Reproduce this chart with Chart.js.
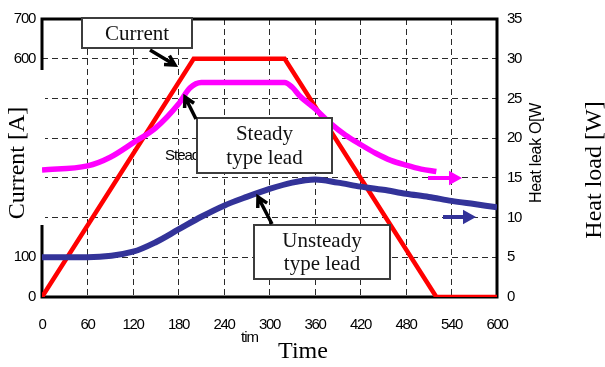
<!DOCTYPE html>
<html>
<head>
<meta charset="utf-8">
<script src="https://cdn.jsdelivr.net/npm/chart.js@4.4.1/dist/chart.umd.min.js"></script>
<style>
  html, body { margin: 0; padding: 0; background: #fff; }
</style>
</head>
<body>
<canvas id="chart" width="605" height="367"></canvas>
<script>
// current ramp [A]
const currentTime = [0, 200, 320, 520, 600];
const currentAmp = [0, 600, 600, 0, 0];

// steady type lead, heat leak [W]
const steadyTime = [0, 60, 90, 120, 150, 180, 195, 210, 320, 330, 340, 360, 380, 400, 420, 440, 460, 480, 500, 520];
const steadyHeat = [16.0, 16.5, 17.6, 19.4, 21.3, 24.3, 26.3, 27.0, 27.0, 26.4, 25.3, 23.7, 21.9, 20.4, 19.2, 18.1, 17.2, 16.6, 16.1, 15.8];

// unsteady type lead, heat leak [W]
const unsteadyTime = [0, 60, 120, 150, 180, 210, 240, 270, 300, 330, 360, 390, 420, 450, 480, 510, 540, 570, 600];
const unsteadyHeat = [5.0, 5.0, 5.7, 6.9, 8.5, 10.1, 11.5, 12.6, 13.6, 14.4, 14.8, 14.4, 13.9, 13.5, 13.0, 12.6, 12.1, 11.7, 11.3];

// left axis labels hidden behind the axis title
const hiddenCurrentTicks = [200, 300, 400, 500];

const tickFont = { family: "'Liberation Sans Narrow', 'Arial Narrow', 'Liberation Sans', sans-serif", size: 15 };
const serif = '"Liberation Serif", "Times New Roman", serif';
const gridColor = '#2a2a2a';

function pts(xs, ys) {
  return xs.map((x, i) => ({ x: x, y: ys[i] }));
}

/*
  @desc: tight tick lettering, like the squeezed labels of the original
*/
const tightTextPlugin = {
  id: 'tightText',
  beforeDraw(chart) {
    chart.ctx.letterSpacing = '-1.3px';
  }
};

/*
  @desc: frame of the plot, drawn under the lines
*/
const framePlugin = {
  id: 'frame',
  beforeDatasetsDraw(chart) {
    const { ctx, chartArea: a } = chart;
    ctx.save();
    // white patch over the left axis where the title sits
    ctx.fillStyle = '#fff';
    ctx.fillRect(0, 70, a.left + 3, 155);
    ctx.strokeStyle = '#000';
    ctx.lineWidth = 3;
    ctx.beginPath();
    ctx.moveTo(a.left, 70);
    ctx.lineTo(a.left, a.top);
    ctx.lineTo(a.right, a.top);
    ctx.lineTo(a.right, a.bottom);
    ctx.lineTo(a.left, a.bottom);
    ctx.lineTo(a.left, 225);
    ctx.stroke();
    ctx.restore();
  }
};

function arrow(ctx, x1, y1, x2, y2, color, width, head, filled) {
  const ang = Math.atan2(y2 - y1, x2 - x1);
  ctx.strokeStyle = color;
  ctx.fillStyle = color;
  ctx.lineWidth = width;
  ctx.lineCap = 'butt';
  ctx.beginPath();
  if (filled) {
    const bx = x2 - head * Math.cos(ang), by = y2 - head * Math.sin(ang);
    ctx.moveTo(x1, y1);
    ctx.lineTo(bx, by);
    ctx.stroke();
    ctx.beginPath();
    ctx.moveTo(x2, y2);
    ctx.lineTo(bx + head * 0.55 * Math.sin(ang), by - head * 0.55 * Math.cos(ang));
    ctx.lineTo(bx - head * 0.55 * Math.sin(ang), by + head * 0.55 * Math.cos(ang));
    ctx.closePath();
    ctx.fill();
  } else {
    ctx.moveTo(x1, y1);
    ctx.lineTo(x2, y2);
    ctx.moveTo(x2 - head * Math.cos(ang - 0.5), y2 - head * Math.sin(ang - 0.5));
    ctx.lineTo(x2, y2);
    ctx.lineTo(x2 - head * Math.cos(ang + 0.5), y2 - head * Math.sin(ang + 0.5));
    ctx.stroke();
  }
}

function labelBox(ctx, x, y, w, h, lines, gap) {
  ctx.fillStyle = '#fff';
  ctx.fillRect(x, y, w, h);
  ctx.strokeStyle = '#3c3c3c';
  ctx.lineWidth = 2;
  ctx.strokeRect(x, y, w, h);
  ctx.fillStyle = '#111';
  ctx.font = '21px ' + serif;
  ctx.textAlign = 'center';
  ctx.textBaseline = 'middle';
  lines.forEach((t, i) => {
    ctx.fillText(t, x + w / 2, y + h / 2 + 1 + (i - (lines.length - 1) / 2) * gap);
  });
}

/*
  @desc: axis titles, callouts and arrows
*/
const notesPlugin = {
  id: 'notes',
  afterDraw(chart) {
    const ctx = chart.ctx;
    ctx.save();
    ctx.letterSpacing = '-1px';

    // leftover small labels
    ctx.fillStyle = '#000';
    ctx.font = "15px 'Liberation Sans', sans-serif";
    ctx.textAlign = 'left';
    ctx.textBaseline = 'middle';
    ctx.fillText('Steady', 165, 156);
    ctx.fillText('tim', 241, 338);

    ctx.save();
    ctx.letterSpacing = '-0.3px';
    ctx.translate(537, 153);
    ctx.rotate(-Math.PI / 2);
    ctx.textAlign = 'center';
    ctx.font = "16px 'Liberation Sans', sans-serif";
    ctx.fillText('Heat leak O[W', 0, 0);
    ctx.restore();

    // axis titles
    ctx.letterSpacing = '0px';
    ctx.font = '24px ' + serif;
    ctx.textAlign = 'center';
    ctx.fillText('Time', 303, 352);
    ctx.save();
    ctx.translate(18, 163);
    ctx.rotate(-Math.PI / 2);
    ctx.fillText('Current [A]', 0, 0);
    ctx.restore();
    ctx.save();
    ctx.translate(595, 170);
    ctx.rotate(-Math.PI / 2);
    ctx.fillText('Heat load [W]', 0, 0);
    ctx.restore();

    // callout boxes
    labelBox(ctx, 82, 18, 110, 30, ['Current'], 0);
    labelBox(ctx, 197, 118, 135, 55, ['Steady', 'type lead'], 24);
    labelBox(ctx, 254, 225, 136, 54, ['Unsteady', 'type lead'], 23);

    // black pointers
    arrow(ctx, 150, 50, 175, 65, '#000', 3.5, 11, false);
    arrow(ctx, 196, 119, 185, 97, '#000', 3.5, 11, false);
    arrow(ctx, 272, 224, 258, 197, '#000', 3.5, 11, false);

    // series pointers toward the right axis
    arrow(ctx, 428, 178, 462, 178, '#ff00ff', 4, 13, true);
    arrow(ctx, 443, 217, 476, 217, '#333399', 4, 13, true);

    ctx.restore();
  }
};

const config = {
  type: 'line',
  data: {
    datasets: [
      {
        label: 'Unsteady type lead',
        data: pts(unsteadyTime, unsteadyHeat),
        yAxisID: 'y1',
        borderColor: '#333399',
        borderWidth: 6,
        pointRadius: 0,
        cubicInterpolationMode: 'monotone',
      },
      {
        label: 'Steady type lead',
        data: pts(steadyTime, steadyHeat),
        yAxisID: 'y1',
        borderColor: '#ff00ff',
        borderWidth: 5.5,
        pointRadius: 0,
        cubicInterpolationMode: 'monotone',
      },
      {
        label: 'Current',
        data: pts(currentTime, currentAmp),
        yAxisID: 'y',
        borderColor: '#ff0000',
        borderWidth: 4.5,
        pointRadius: 0,
        tension: 0,
      },
    ],
  },
  options: {
    responsive: false,
    animation: false,
    layout: { padding: { top: 11 } },
    plugins: {
      legend: { display: false },
      tooltip: { enabled: false },
    },
    scales: {
      x: {
        type: 'linear',
        min: 0,
        max: 600,
        ticks: { stepSize: 60, font: tickFont, color: '#000', padding: 19, maxRotation: 0, autoSkip: false },
        grid: { color: gridColor, lineWidth: 1, drawTicks: false },
        border: { display: false, dash: [6, 4] },
        afterFit: (s) => { s.height = 70; },
      },
      y: {
        position: 'left',
        min: 0,
        max: 700,
        ticks: {
          stepSize: 100,
          font: tickFont,
          color: '#000',
          padding: 7,
          callback: (v) => hiddenCurrentTicks.includes(v) ? '' : v,
        },
        grid: { color: gridColor, lineWidth: 1, drawTicks: false },
        border: { display: false, dash: [6, 4] },
        afterFit: (s) => { s.width = 42; },
      },
      y1: {
        position: 'right',
        min: 0,
        max: 35,
        ticks: { stepSize: 5, font: tickFont, color: '#000', padding: 10 },
        grid: { display: false, drawTicks: false },
        border: { display: false },
        afterFit: (s) => { s.width = 108; },
      },
    },
  },
  plugins: [tightTextPlugin, framePlugin, notesPlugin],
};

const chart = new Chart(document.getElementById('chart'), config);
</script>
</body>
</html>
